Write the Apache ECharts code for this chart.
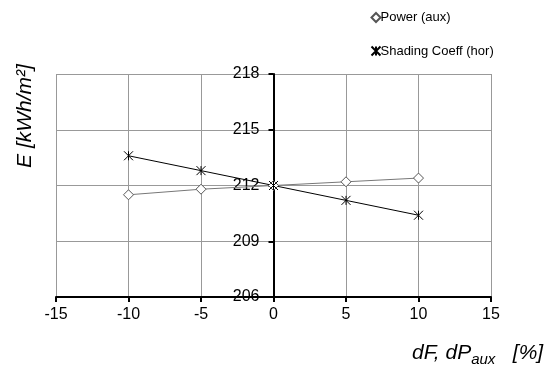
<!DOCTYPE html>
<html><head><meta charset="utf-8">
<script src="https://cdn.jsdelivr.net/npm/echarts@6/dist/echarts.min.js"></script>
<style>html,body{margin:0;padding:0;background:#fff}#c{width:557px;height:370px}</style>
</head><body><div id="c"></div>
<script>
const xValues = [-10, -5, 0, 5, 10];
const powerAux = [211.5, 211.8, 212.0, 212.2, 212.4];
const shadingCoeff = [213.6, 212.8, 212.0, 211.2, 210.4];
const seriesNames = ['Power (aux)', 'Shading Coeff (hor)'];
const yTitle = 'E [kWh/m²]';

const star = 'path://M0,0L10,10M10,0L0,10M5,0L5,10';
const chart = echarts.init(document.getElementById('c'));
const F = 'Liberation Sans, Arial, sans-serif';
const GL = 56, GR = 66, W = 557;
const zeroOffset = -(W - GL - GR) / 2;
chart.setOption({
  animation: false,
  grid: {left: GL, right: GR, top: 74, bottom: 73, containLabel: false, outerBoundsMode: 'none'},
  legend: {
    orient: 'vertical', left: 364, top: 6, itemGap: 20, itemWidth: 9, itemHeight: 9,
    textStyle: {fontFamily: F, fontSize: 13, color: '#000', padding: [0,0,0,-5]},
    data: [{name: seriesNames[0], icon: 'diamond'}, {name: seriesNames[1], icon: star}]
  },
  xAxis: {
    type: 'value', min: -15, max: 15, interval: 5,
    axisLine: {onZero: false, lineStyle: {color: '#000', width: 2}},
    axisTick: {show: true, length: 5, lineStyle: {color: '#000', width: 2}},
    axisLabel: {fontFamily: F, fontSize: 16, color: '#000', margin: 10},
    splitLine: {show: true, lineStyle: {color: '#999', width: 1}}
  },
  yAxis: {
    type: 'value', min: 206, max: 218, interval: 3, position: 'left', offset: zeroOffset,
    axisLine: {onZero: false, lineStyle: {color: '#000', width: 2}},
    axisTick: {show: true, length: 5, lineStyle: {color: '#000', width: 2}},
    axisLabel: {fontFamily: F, fontSize: 16, color: '#000', margin: 14},
    splitLine: {show: true, lineStyle: {color: '#999', width: 1}}
  },
  graphic: [
    {type: 'text', x: 25, y: 116, rotation: Math.PI/2, style: {
      text: yTitle, fontFamily: F, fontSize: 21, fontStyle: 'italic', fill: '#000',
      align: 'center', verticalAlign: 'middle'}},
    {type: 'text', left: 412, top: 343, style: {
      rich: {a: {fontFamily: F, fontSize: 21, fontStyle: 'italic', fill: '#000'},
             s: {fontFamily: F, fontSize: 15, fontStyle: 'italic', fill: '#000', padding: [12,0,0,0]}},
      text: '{a|dF, dP}{s|aux}{a|   [%]}'
    }}
  ],
  series: [
    {name: seriesNames[0], type: 'line', data: xValues.map((x,i)=>[x, powerAux[i]]),
     symbol: 'diamond', symbolSize: 10, lineStyle: {color: '#777', width: 1},
     itemStyle: {color: '#fff', borderColor: '#555', borderWidth: 1}},
    {name: seriesNames[1], type: 'line', data: xValues.map((x,i)=>[x, shadingCoeff[i]]),
     symbol: star, symbolSize: 9, lineStyle: {color: '#000', width: 1},
     itemStyle: {color: 'none', borderColor: '#000', borderWidth: 1}}
  ]
});
</script></body></html>
